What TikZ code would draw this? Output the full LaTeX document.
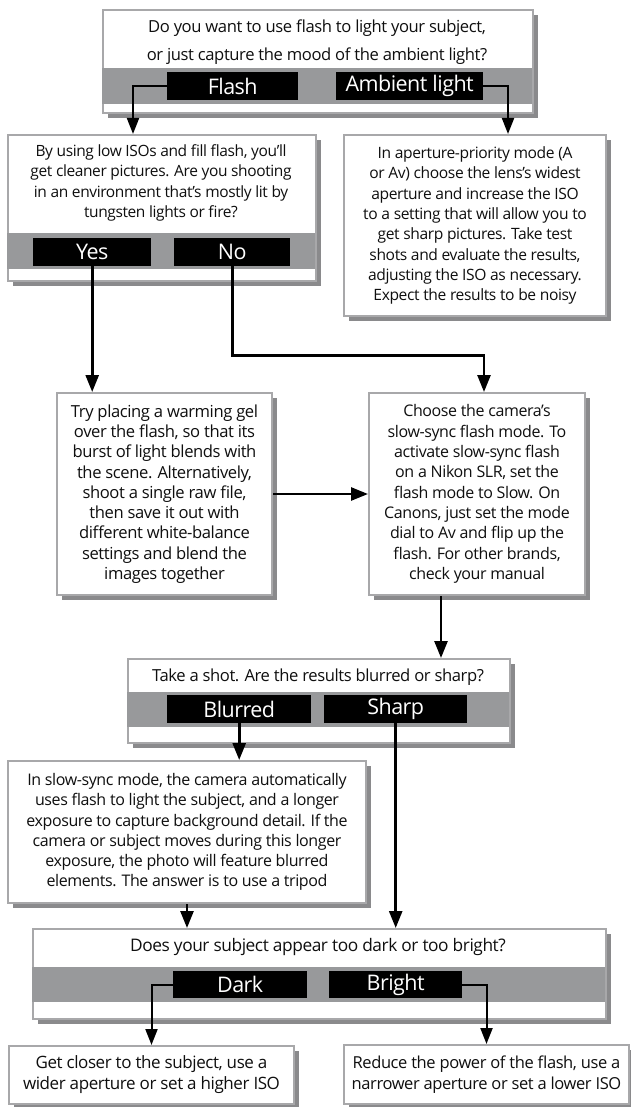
\documentclass[tikz,border=0pt]{standalone}
\usepackage{fontspec}
\setmainfont{Open Sans}[LetterSpace=-2.5]
\usetikzlibrary{arrows.meta,shadows}

\definecolor{bandgray}{RGB}{152,153,155}
\definecolor{edgegray}{RGB}{168,168,170}
\definecolor{shadegray}{RGB}{138,138,140}
\definecolor{ink}{RGB}{15,15,15}

\tikzset{
  panel/.style={draw=edgegray, line width=2pt, fill=white, anchor=north west,
    inner sep=0pt, align=center, text=ink,
    font=\fontsize{16}{20.3}\selectfont,
    drop shadow={shadow xshift=5pt, shadow yshift=-5pt, fill=shadegray, opacity=1}},
  answer/.style={fill=black, text=white, anchor=north west, inner sep=0pt,
    font=\fontsize{21.5}{24}\selectfont},
  question/.style={align=center, inner sep=0pt, text=ink,
    font=\fontsize{15.5}{20.3}\selectfont},
  conn/.style={line width=2.6pt, -{Triangle[length=17pt,width=13pt]}},
  elbow/.style={line width=2pt, -{Triangle[length=16pt,width=12pt]}},
}

\begin{document}
\begin{tikzpicture}[x=1pt,y=-1pt]
\useasboundingbox (0,0) rectangle (631,1107);

% ---------- first question: flash or ambient light ----------
\node[panel, minimum width=430pt, minimum height=103pt] (q1) at (102,9) {};
\fill[bandgray] (102,68) rectangle (532,104);
\node[question, font=\fontsize{16.6}{27.5}\selectfont] (q1t) at (317,42)
  {Do you want to use flash to light your subject,\\or just capture the mood of the ambient light?};
\node[answer, minimum width=131pt, minimum height=28pt] (flash) at (167,72) {Flash};
\node[answer, minimum width=147pt, minimum height=28pt] (ambient) at (336,72) {Ambient light};

% ---------- second question: tungsten light? ----------
\node[panel, minimum width=308pt, minimum height=146pt] (q2) at (7,134) {};
\fill[bandgray] (7,233) rectangle (315,269);
\node[question] (q2t) at (161,183)
  {By using low ISOs and fill flash, you’ll\\get cleaner pictures. Are you shooting\\in an environment that’s mostly lit by\\tungsten lights or fire?};
\node[answer, minimum width=118pt, minimum height=28pt] (yes) at (33,238) {Yes};
\node[answer, minimum width=116pt, minimum height=28pt] (no) at (174,238) {No};

% ---------- ambient light advice ----------
\node[panel, minimum width=262pt, minimum height=181pt, font=\fontsize{15.6}{20.3}\selectfont] (ambbox) at (343,134)
  {In aperture-priority mode (A\\or Av) choose the lens’s widest\\aperture and increase the ISO\\to a setting that will allow you to\\get sharp pictures. Take test\\shots and evaluate the results,\\adjusting the ISO as necessary.\\Expect the results to be noisy};

% ---------- tungsten / slow-sync boxes ----------
\node[panel, minimum width=215pt, minimum height=202pt, font=\fontsize{16.6}{20.3}\selectfont] (gel) at (56,392)
  {Try placing a warming gel\\over the flash, so that its\\burst of light blends with\\the scene. Alternatively,\\shoot a single raw file,\\then save it out with\\different white-balance\\settings and blend the\\images together};
\node[panel, minimum width=216pt, minimum height=202pt] (sync) at (368,392)
  {Choose the camera’s\\slow-sync flash mode. To\\activate slow-sync flash\\on a Nikon SLR, set the\\flash mode to Slow. On\\Canons, just set the mode\\dial to Av and flip up the\\flash. For other brands,\\check your manual};

% ---------- third question: blurred or sharp ----------
\node[panel, minimum width=382pt, minimum height=84pt] (q3) at (127,658) {};
\fill[bandgray] (127,692) rectangle (509,727);
\node[question, font=\fontsize{16.6}{20.3}\selectfont] (q3t) at (318,677) {Take a shot. Are the results blurred or sharp?};
\node[answer, minimum width=144pt, minimum height=28pt] (blurred) at (167,695) {Blurred};
\node[answer, minimum width=143pt, minimum height=28pt] (sharp) at (324,695) {Sharp};

\node[panel, minimum width=358pt, minimum height=142pt] (tripod) at (7,760)
  {In slow-sync mode, the camera automatically\\uses flash to light the subject, and a longer\\exposure to capture background detail. If the\\camera or subject moves during this longer\\exposure, the photo will feature blurred\\elements. The answer is to use a tripod};

% ---------- fourth question: dark or bright ----------
\node[panel, minimum width=573pt, minimum height=90pt] (q4) at (32,928) {};
\fill[bandgray] (32,967) rectangle (605,1002);
\node[question, font=\fontsize{17.3}{20.3}\selectfont] (q4t) at (318,947) {Does your subject appear too dark or too bright?};
\node[answer, minimum width=134pt, minimum height=27pt] (dark) at (173,971) {Dark};
\node[answer, minimum width=133pt, minimum height=27pt] (bright) at (329,971) {Bright};

\node[panel, minimum width=285pt, minimum height=58pt, font=\fontsize{17}{21}\selectfont] (closer) at (8,1045)
  {Get closer to the subject, use a\\wider aperture or set a higher ISO};
\node[panel, minimum width=285pt, minimum height=59pt, font=\fontsize{16.5}{21}\selectfont] (reduce) at (343,1044)
  {Reduce the power of the flash, use a\\narrower aperture or set a lower ISO};

% ---------- connectors ----------
\draw[elbow] (flash.west) -| ([xshift=-29pt]q2.north);
\draw[elbow] (ambient.east) -| ([xshift=33pt]ambbox.north);
\draw[conn] (yes.south) -- (yes.south |- gel.north);
\draw[conn] (no.south) -- ++(0,89) -| ([xshift=7pt]sync.north);
\draw[conn] (gel.east) -- (sync.west);
\draw[conn] ([xshift=-36pt]sync.south) coordinate (s1) -- (s1 |- q3.north);
\draw[conn] (blurred.south) -- (blurred.south |- tripod.north);
\draw[conn] (sharp.south) -- (sharp.south |- q4.north);
\draw[conn] (tripod.south) -- (tripod.south |- q4.north);
\draw[elbow] (dark.west) -| (closer.north);
\draw[elbow] (bright.east) -| (reduce.north);
\end{tikzpicture}
\end{document}
